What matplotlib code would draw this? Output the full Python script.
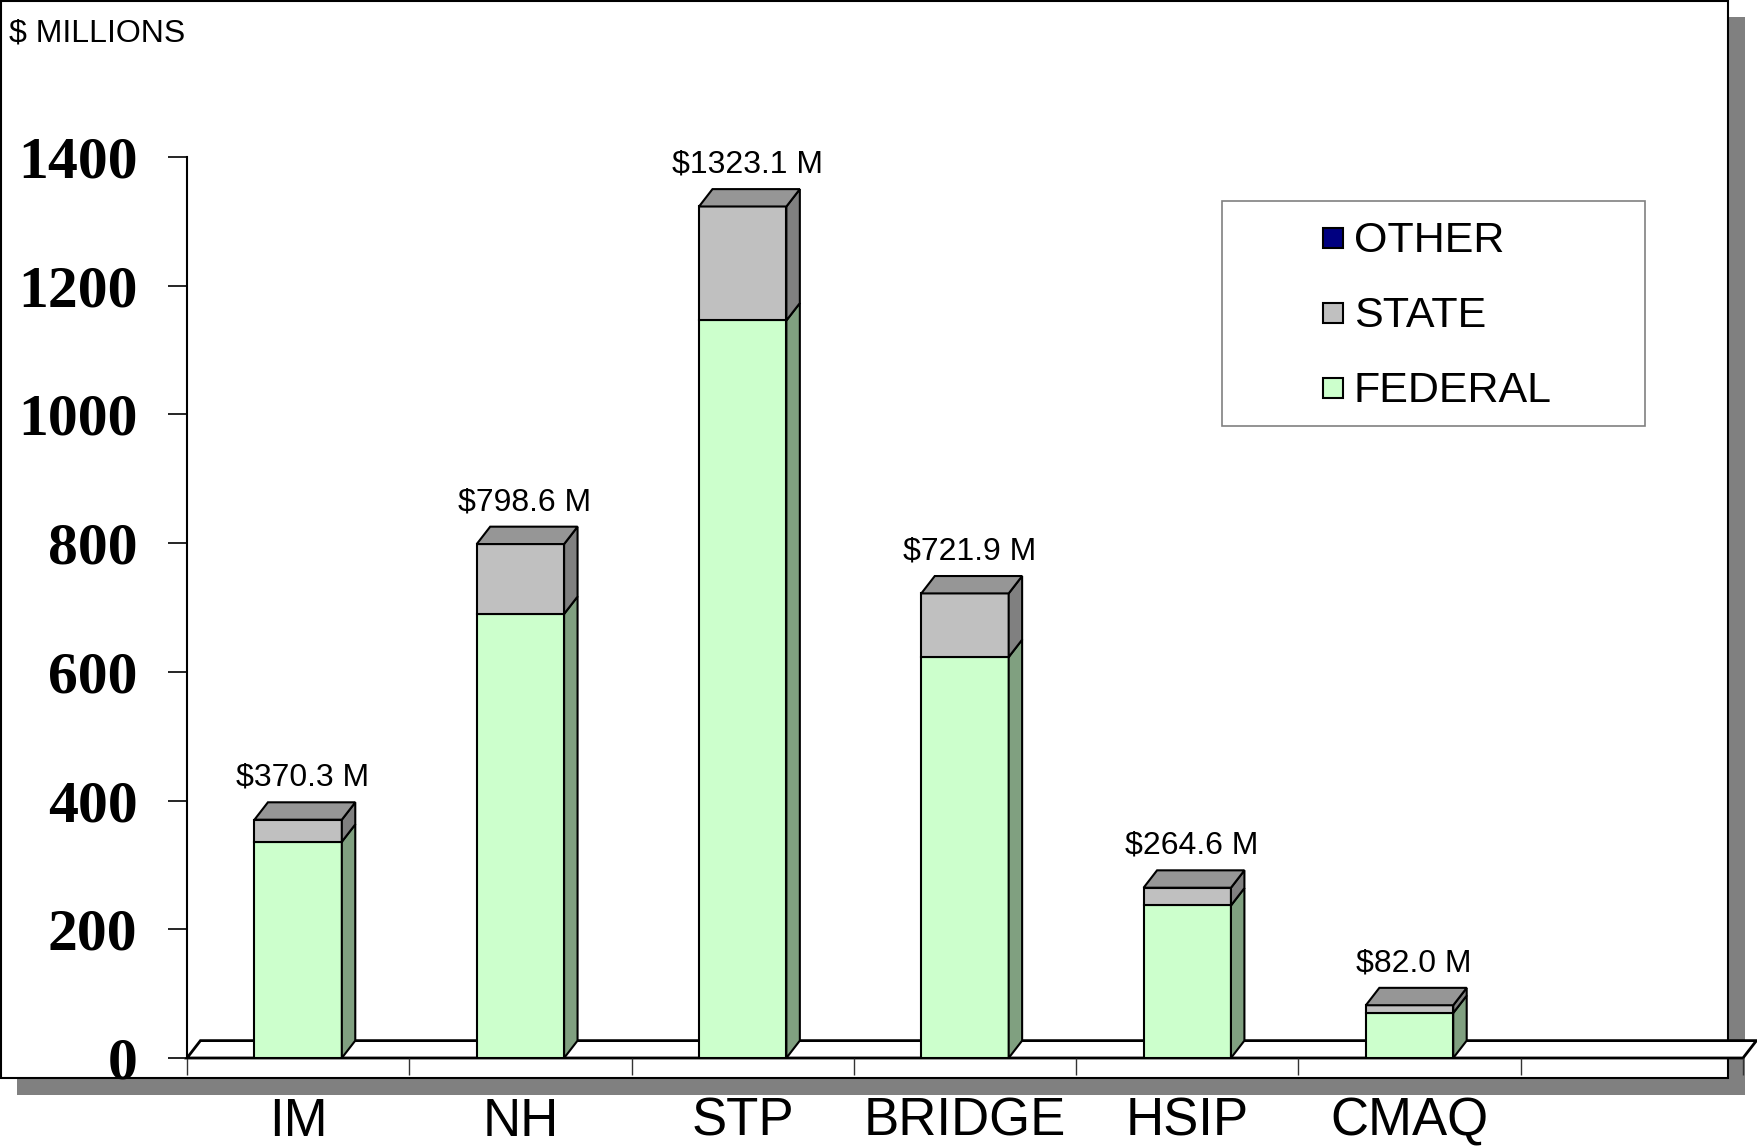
import matplotlib.pyplot as plt
from matplotlib.patches import Rectangle, Polygon

# values ($ millions)
categories = ['IM', 'NH', 'STP', 'BRIDGE', 'HSIP', 'CMAQ']
federal = [336.0, 690.0, 1146.0, 623.0, 237.0, 70.0]
state = [34.3, 108.6, 177.1, 98.9, 27.6, 12.0]
other = [0.0, 0.0, 0.0, 0.0, 0.0, 0.0]
totals = [370.3, 798.6, 1323.1, 721.9, 264.6, 82.0]
yticks = [0, 200, 400, 600, 800, 1000, 1200, 1400]
series_names = ['OTHER', 'STATE', 'FEDERAL']

W, H = 1758, 1147
face = {'FEDERAL': '#CCFFCC', 'STATE': '#C0C0C0', 'OTHER': '#000080'}
side = {'FEDERAL': '#80A080', 'STATE': '#808080', 'OTHER': '#000050'}
top_col = '#969696'


def fx(px):
    return px / W


def fy(py):
    return 1 - py / H


fig = plt.figure(figsize=(W / 100, H / 100), dpi=100)

# chart frame with drop shadow
fig.patches.append(Rectangle((fx(17), fy(1095)), fx(1745) - fx(17), fy(17) - fy(1095),
                             transform=fig.transFigure, facecolor='#808080',
                             edgecolor='none', zorder=-3))
fig.patches.append(Rectangle((fx(1), fy(1078)), fx(1728) - fx(1), fy(1) - fy(1078),
                             transform=fig.transFigure, facecolor='white',
                             edgecolor='black', linewidth=1.5, zorder=-2))

ax = fig.add_axes([fx(187), fy(1058), fx(1743) - fx(187), fy(157) - fy(1058)])
ax.set_facecolor('none')
ax.set_xlim(0, 7)
ax.set_ylim(0, 1400)

dx, dy = 0.0605, 27.0
bw = 0.393
lw = 1.5

# floor
ax.add_patch(Polygon([(0, 0), (7, 0), (7 + dx, dy), (dx, dy)], closed=True,
                     facecolor='white', edgecolor='black', linewidth=2,
                     clip_on=False, zorder=1))

for i, cat in enumerate(categories):
    xc = i + 0.5
    x0, x1 = xc - bw / 2, xc + bw / 2
    base = 0.0
    for name, vals in (('FEDERAL', federal), ('STATE', state), ('OTHER', other)):
        v = vals[i]
        if v <= 0:
            continue
        ax.add_patch(Rectangle((x0, base), bw, v, facecolor=face[name],
                               edgecolor='black', linewidth=lw, zorder=3))
        ax.add_patch(Polygon([(x1, base), (x1 + dx, base + dy), (x1 + dx, base + v + dy),
                              (x1, base + v)], closed=True, facecolor=side[name],
                             edgecolor='black', linewidth=lw, zorder=3))
        base += v
    ax.add_patch(Polygon([(x0, base), (x0 + dx, base + dy), (x1 + dx, base + dy), (x1, base)],
                         closed=True, facecolor=top_col, edgecolor='black',
                         linewidth=lw, zorder=3))
    ax.annotate(f'${totals[i]:.1f} M', xy=(xc + dx / 3, base + dy), xytext=(0, 12),
                textcoords='offset points', ha='center', va='baseline',
                fontsize=23, family='Liberation Sans', zorder=4)

for s in ['top', 'right', 'bottom']:
    ax.spines[s].set_visible(False)
ax.spines['left'].set_linewidth(1.5)
ax.spines['left'].set_bounds(0, 1400)

ax.set_yticks(yticks)
ax.set_yticklabels([str(t) for t in yticks], family='Liberation Serif',
                   fontweight='bold', fontsize=43)
ax.tick_params(axis='y', length=13.7, width=1.2, pad=22, direction='out')

ax.set_xticks(range(8))
ax.set_xticklabels([])
ax.tick_params(axis='x', which='major', length=12, width=1, color='#333333')
ax.set_xticks([i + 0.5 for i in range(len(categories))], minor=True)
ax.set_xticklabels(categories, minor=True, family='Liberation Sans', fontsize=38)
ax.tick_params(axis='x', which='minor', length=0, pad=28)

fig.text(fx(9), fy(33), '$ MILLIONS', ha='left', va='center', fontsize=23,
         family='Liberation Sans')

# legend
fig.patches.append(Rectangle((fx(1222), fy(426)), fx(1645) - fx(1222), fy(201) - fy(426),
                             transform=fig.transFigure, facecolor='white',
                             edgecolor='#808080', linewidth=1.2, zorder=5))
row_y = [238, 313, 388]
for name, ry in zip(series_names, row_y):
    fig.patches.append(Rectangle((fx(1323), fy(ry + 10)), fx(20), fx(20) * W / H,
                                 transform=fig.transFigure, facecolor=face[name],
                                 edgecolor='black', linewidth=1.5, zorder=6))
    fig.text(fx(1354), fy(ry + 3), name, ha='left', va='center', fontsize=31,
             family='Liberation Sans', zorder=6)

fig.savefig('out.png', dpi=100)
